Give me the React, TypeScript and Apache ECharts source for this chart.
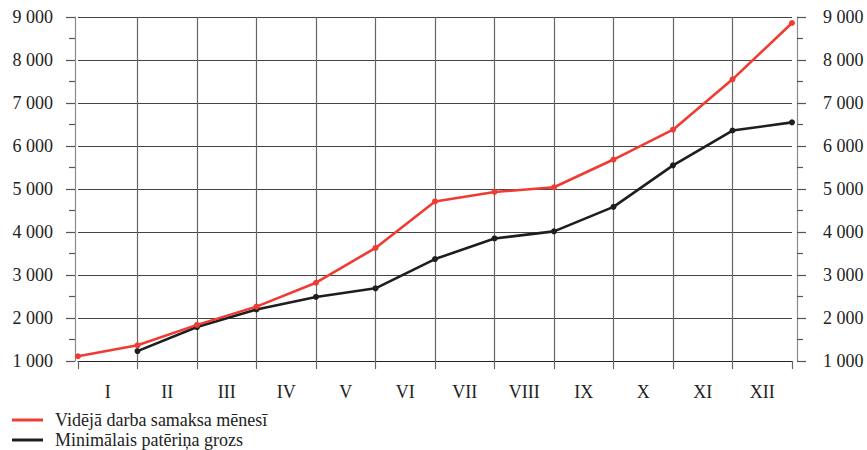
import React, { useEffect, useRef } from "react";
import * as echarts from "echarts";

const months = ["I", "II", "III", "IV", "V", "VI", "VII", "VIII", "IX", "X", "XI", "XII"];
const pointIndex = ["0", "1", "2", "3", "4", "5", "6", "7", "8", "9", "10", "11", "12"];
const avgWage = [1110, 1365, 1840, 2265, 2820, 3630, 4710, 4930, 5040, 5685, 6380, 7550, 8860];
const minBasket = [null, 1230, 1790, 2200, 2490, 2690, 3370, 3850, 4015, 4585, 5550, 6360, 6550];
const seriesNames = ["Vidējā darba samaksa mēnesī", "Minimālais patēriņa grozs"];
const yMin = 1000;
const yMax = 9000;
const yStep = 1000;

const FONT = "Liberation Serif, Times New Roman, Times, serif";

const fmt = (v: number) => {
  const s = String(Math.round(v));
  return s.replace(/\B(?=(\d{3})+(?!\d))/g, " ");
};

export default function App() {
  const ref = useRef<HTMLDivElement>(null);
  useEffect(() => {
    if (!ref.current) return;
    const chart = echarts.init(ref.current, undefined, { renderer: "svg" });
    const yAxisBase = {
      type: "value",
      min: yMin,
      max: yMax,
      interval: yStep,
      axisLine: { show: true, lineStyle: { color: "#8a8a8a", width: 1.2 } },
      axisTick: { show: true, length: 9, lineStyle: { color: "#555", width: 1.2 } },
      minorTick: { show: true, splitNumber: 2, length: 6, lineStyle: { color: "#555", width: 1.2 } },
      axisLabel: {
        fontFamily: FONT,
        fontSize: 18,
        color: "#222",
        formatter: (v: number) => fmt(v),
      },
    };
    const legendBase = {
      orient: "vertical",
      left: 12,
      padding: 0,
      icon: "rect",
      itemWidth: 31,
      itemHeight: 3,
      textStyle: {
        fontFamily: FONT,
        fontSize: 18,
        color: "#222",
        padding: [0, 0, 0, 7],
      },
    };
    chart.setOption({
      animation: false,
      backgroundColor: "#fff",
      grid: { left: 78, width: 714, top: 17, height: 344, containLabel: false },
      legend: [
        { ...legendBase, data: [seriesNames[0]], top: 411 },
        { ...legendBase, data: [seriesNames[1]], top: 431 },
      ],
      xAxis: [
        {
          type: "category",
          data: months,
          boundaryGap: true,
          position: "bottom",
          axisLine: { show: true, lineStyle: { color: "#222", width: 1.2 } },
          axisTick: { show: true, length: 8, lineStyle: { color: "#666", width: 1.2 } },
          splitLine: {
            show: true,
            showMinLine: false,
            showMaxLine: false,
            lineStyle: { color: "#666", width: 1.2 },
          },
          axisLabel: { fontFamily: FONT, fontSize: 18, color: "#222", margin: 22 },
        },
        {
          type: "category",
          data: pointIndex,
          boundaryGap: false,
          show: false,
        },
      ],
      yAxis: [
        {
          ...yAxisBase,
          position: "left",
          offset: 3,
          splitLine: { show: true, lineStyle: { color: "#444", width: 1.2 } },
          axisLabel: { ...yAxisBase.axisLabel, margin: 22 },
        },
        {
          ...yAxisBase,
          position: "right",
          offset: 5,
          splitLine: { show: false },
          axisLabel: { ...yAxisBase.axisLabel, margin: 26 },
        },
      ],
      series: [
        {
          name: seriesNames[0],
          type: "line",
          xAxisIndex: 1,
          yAxisIndex: 0,
          data: avgWage,
          symbol: "circle",
          symbolSize: 6,
          color: "#ef3b33",
          lineStyle: { color: "#ef3b33", width: 2.6 },
          itemStyle: { color: "#ef3b33" },
          z: 3,
        },
        {
          name: seriesNames[1],
          type: "line",
          xAxisIndex: 1,
          yAxisIndex: 0,
          data: minBasket,
          symbol: "circle",
          symbolSize: 6,
          color: "#1e1e1e",
          lineStyle: { color: "#1e1e1e", width: 2.6 },
          itemStyle: { color: "#1e1e1e" },
          z: 2,
        },
      ],
    });
    return () => chart.dispose();
  }, []);
  return (
    <div
      ref={ref}
      style={{ position: "fixed", left: 0, top: 0, width: 867, height: 450, background: "#fff" }}
    />
  );
}
